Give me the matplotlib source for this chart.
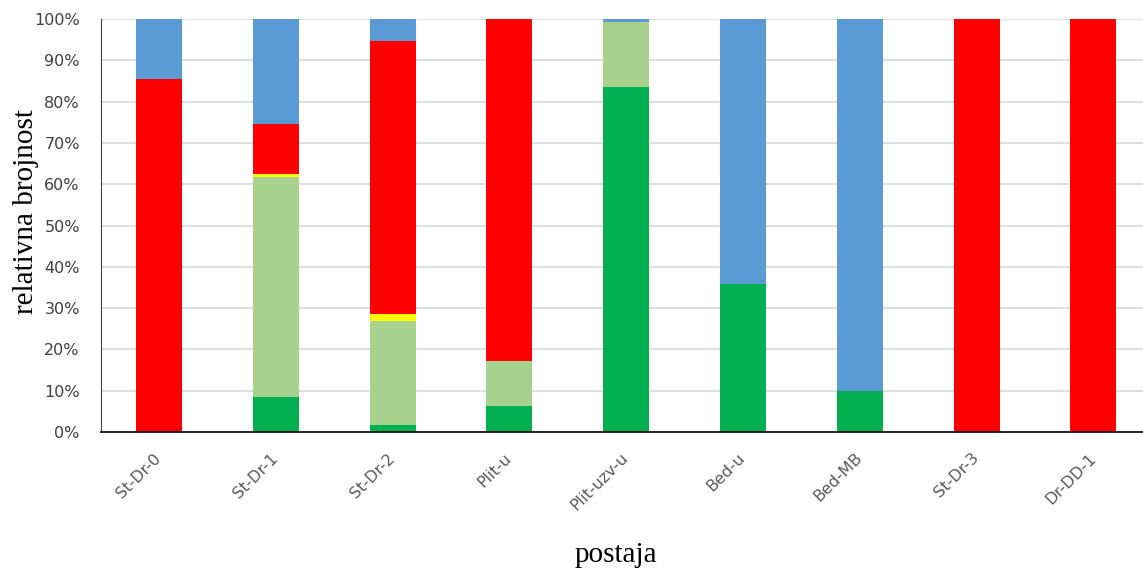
import numpy as np
import matplotlib.pyplot as plt
import matplotlib.ticker as mticker
import matplotlib.transforms as mtransforms

# postaje (stations)
stations = ['St-Dr-0', 'St-Dr-1', 'St-Dr-2', 'Plit-u', 'Plit-uzv-u',
            'Bed-u', 'Bed-MB', 'St-Dr-3', 'Dr-DD-1']

# share of each group per station, in %, stacked bottom to top
dark_green = [0.0, 8.4, 1.6, 6.3, 83.5, 35.8, 10.0, 0.0, 0.0]
light_green = [0.0, 53.4, 25.2, 10.8, 15.8, 0.0, 0.0, 0.0, 0.0]
yellow = [0.0, 0.7, 1.8, 0.0, 0.0, 0.0, 0.0, 0.0, 0.0]
red = [85.5, 12.2, 66.0, 82.9, 0.0, 0.0, 0.0, 100.0, 100.0]
blue = [14.5, 25.3, 5.4, 0.0, 0.7, 64.2, 90.0, 0.0, 0.0]

series = [dark_green, light_green, yellow, red, blue]
colors = ['#00B050', '#A9D18E', '#FFFF00', '#FF0000', '#5B9BD5']

fig = plt.figure(figsize=(11.43, 5.68), dpi=100)
ax = fig.add_axes([0.088, 0.2394, 0.9197, 0.7271])

x = np.arange(len(stations))
bottom = np.zeros(len(stations))
for vals, col in zip(series, colors):
    vals = np.array(vals) / 100.0
    ax.bar(x, vals, width=0.394, bottom=bottom, color=col, zorder=2)
    bottom += vals

ax.set_xlim(-0.5, len(stations) - 0.5)
ax.set_ylim(0, 1)
ax.yaxis.set_major_locator(mticker.MultipleLocator(0.1))
ax.yaxis.set_major_formatter(mticker.PercentFormatter(1.0, decimals=0))
ax.yaxis.grid(True, color='#D9D9D9', linewidth=1.2, zorder=0)
ax.set_axisbelow(True)

ax.set_xticks(x)
ax.set_xticklabels(stations, rotation=45, ha='right', va='center',
                   rotation_mode='anchor', fontsize=11.5, color='#595959')
# nudge the slanted labels a little to the right, like the original
shift = mtransforms.ScaledTranslation(5 / 72, 0, fig.dpi_scale_trans)
for lbl in ax.get_xticklabels():
    lbl.set_transform(lbl.get_transform() + shift)
for lbl in ax.get_yticklabels():
    lbl.set_fontsize(11.5)
    lbl.set_color('#404040')
ax.tick_params(axis='both', length=0)
ax.tick_params(axis='x', pad=17)
ax.tick_params(axis='y', pad=15)

for side in ['top', 'right']:
    ax.spines[side].set_visible(False)
ax.spines['left'].set_color('#404040')
ax.spines['bottom'].set_color('black')
ax.spines['bottom'].set_linewidth(1.2)

fig.text(26 / 1143, 1 - 212 / 568, 'relativna brojnost', rotation=90,
         family='Liberation Serif', fontsize=21, ha='center', va='center')
fig.text(616 / 1143, 1 - 555 / 568, 'postaja', family='Liberation Serif',
         fontsize=21, ha='center', va='center')

fig.savefig('out.png', dpi=100)
